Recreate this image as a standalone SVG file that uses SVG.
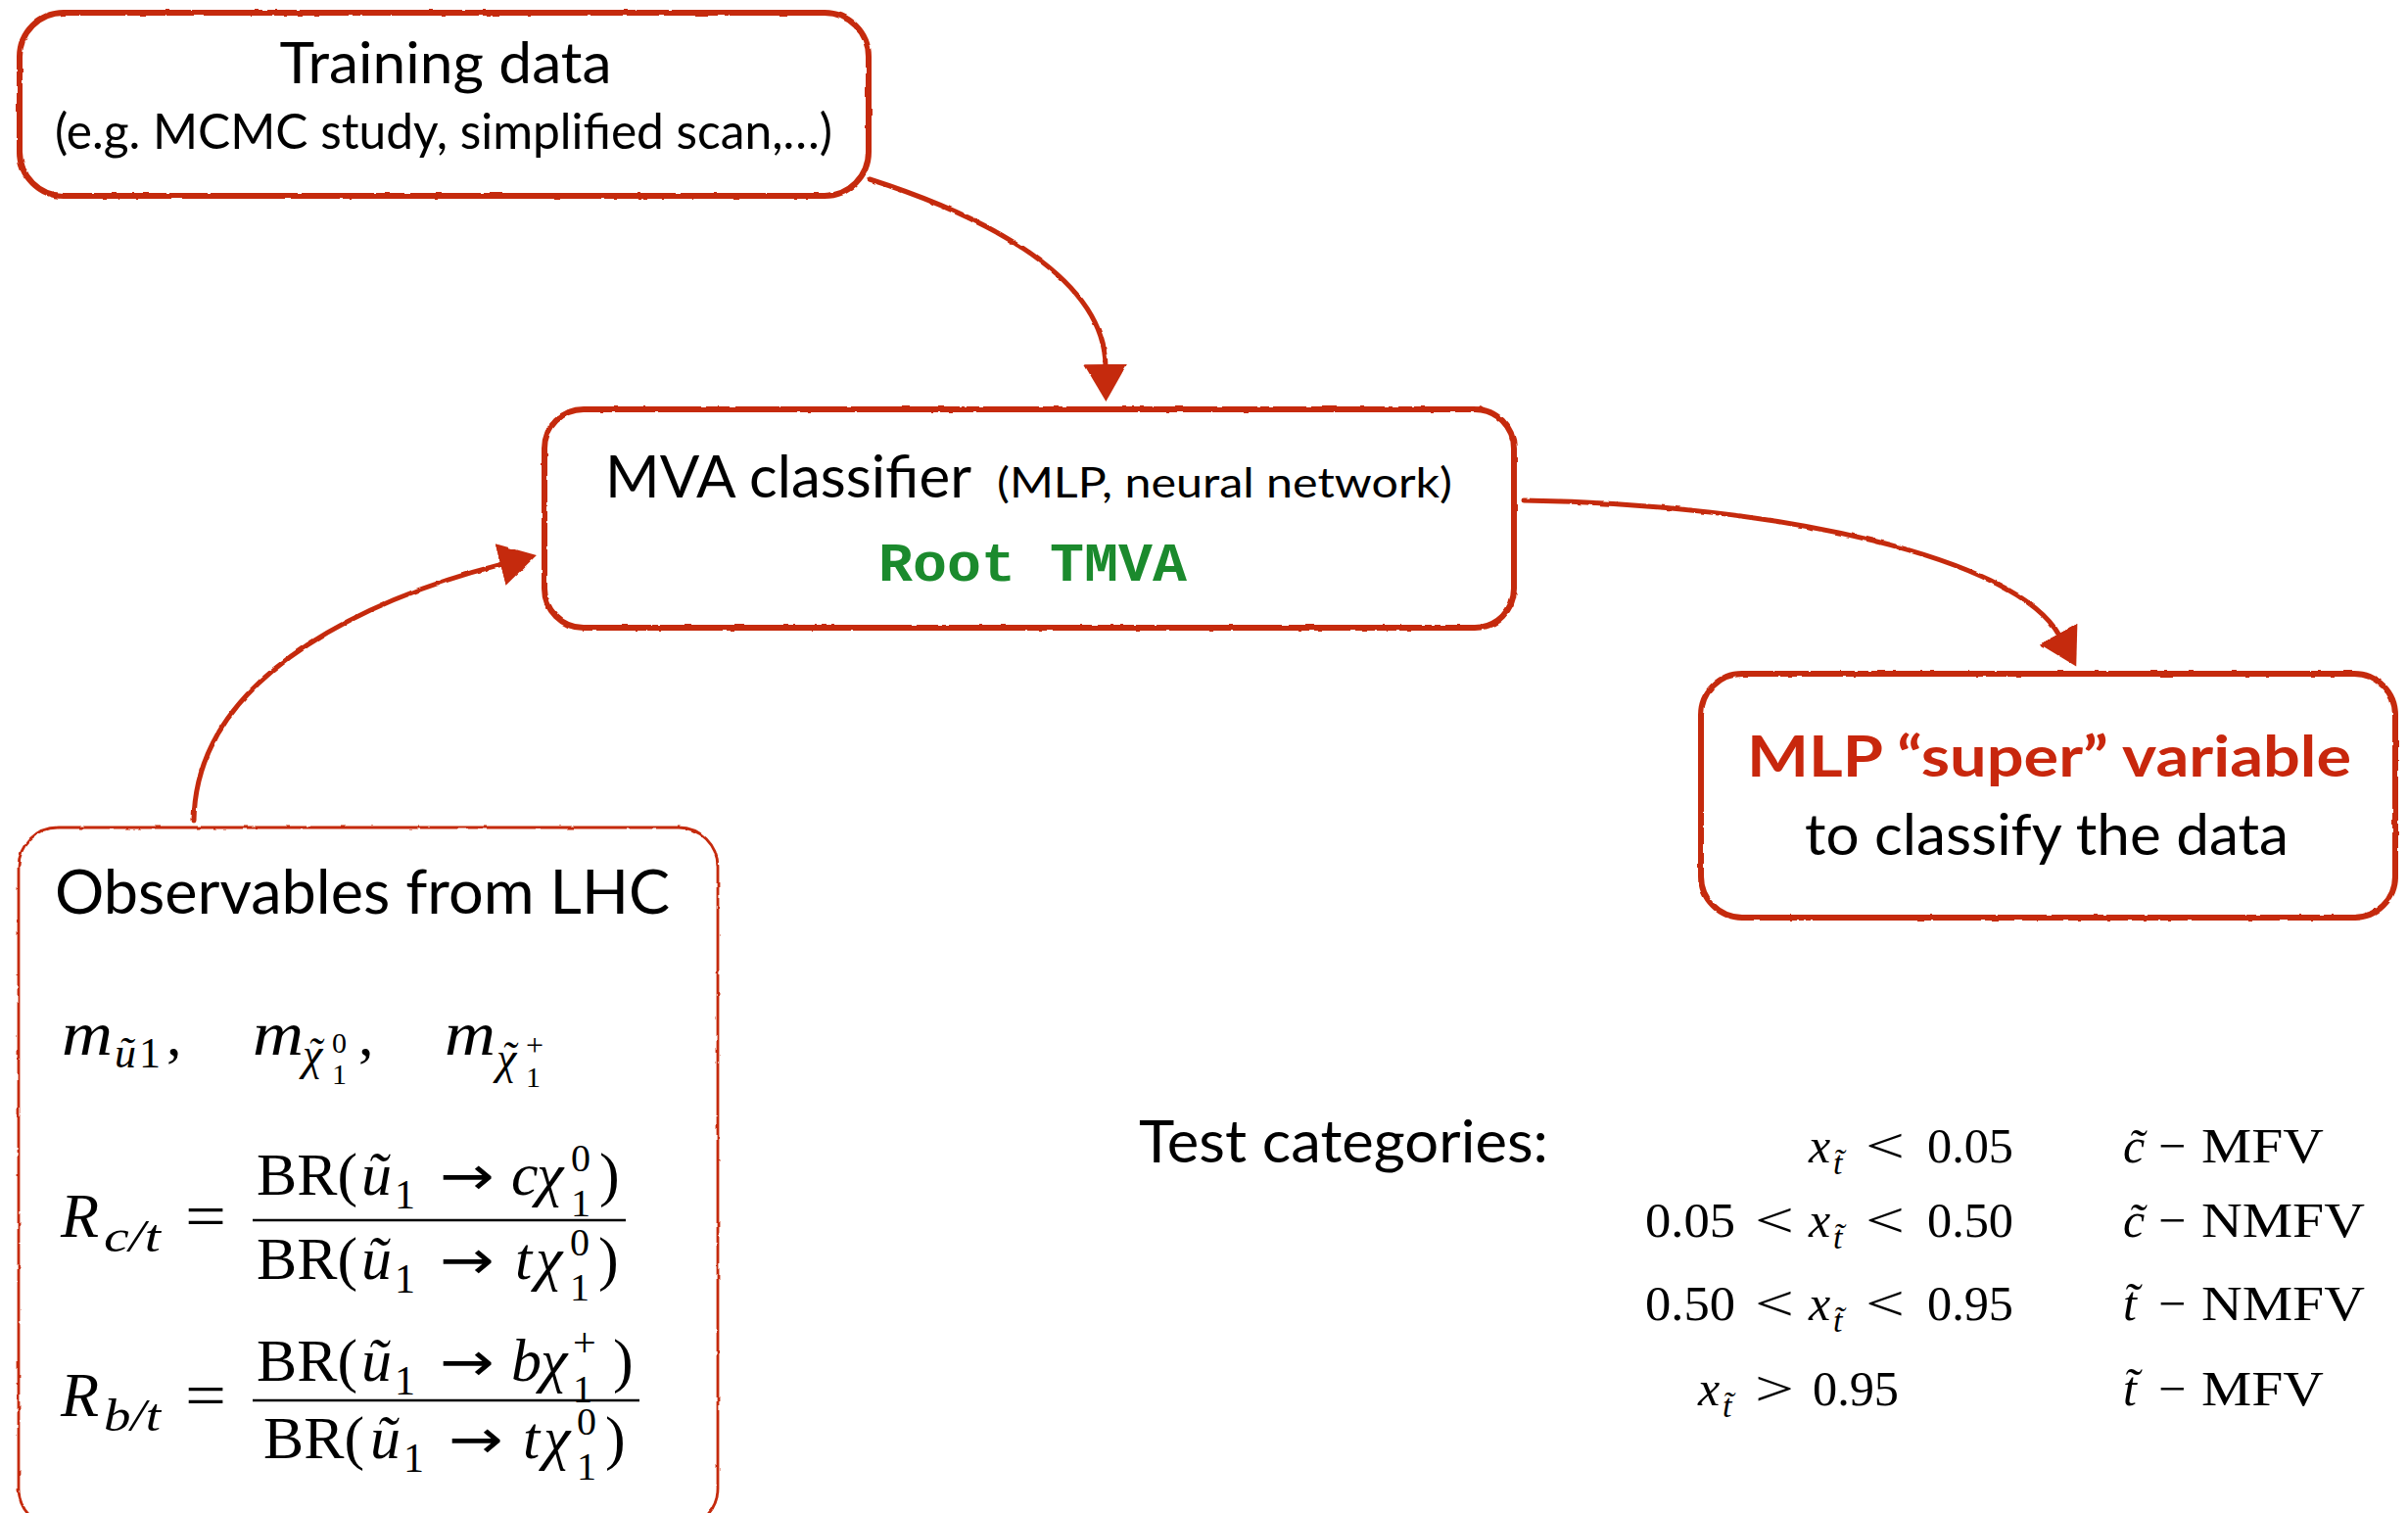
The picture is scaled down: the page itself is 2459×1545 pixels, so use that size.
<svg xmlns="http://www.w3.org/2000/svg" width="2459" height="1545" viewBox="0 0 2459 1545">
<style>
.box{fill:#fff;stroke:#c52a0c;stroke-width:6;filter:url(#rough)}
.thin{fill:#fff;stroke:#c52a0c;stroke-width:2.8;filter:url(#rough)}
.conn{fill:none;stroke:#c52a0c;stroke-width:5;stroke-linecap:round}
.sans{font-family:Lato,"Open Sans","Liberation Sans",sans-serif;fill:#000}
.red{fill:#c8270d;font-weight:bold}
.mono{font-family:"Liberation Mono","Courier New",monospace;font-weight:bold;fill:#1b8a2d}
.mi{font-family:"Liberation Serif","Times New Roman",serif;font-style:italic;fill:#000}
.mr{font-family:"Liberation Serif","Times New Roman",serif;fill:#000}
.ar{font-family:"DejaVu Sans",sans-serif;fill:#000}
.bar{stroke:#000;stroke-width:2.6}
</style>
<defs>
<filter id="rough" filterUnits="userSpaceOnUse" x="0" y="0" width="2459" height="1545">
<feTurbulence type="fractalNoise" baseFrequency="0.09" numOctaves="2" seed="4" result="n"/>
<feDisplacementMap in="SourceGraphic" in2="n" scale="2.5" xChannelSelector="R" yChannelSelector="G"/>
</filter>
<marker id="head" markerUnits="userSpaceOnUse" markerWidth="44" markerHeight="50" viewBox="0 -25 44 50" refX="2" refY="0" orient="auto">
<path d="M0,-22 L38,0 L0,22 Z" fill="#c52a0c"/>
</marker>
</defs>
<rect width="2459" height="1545" fill="#fff"/>

<g id="connectors" filter="url(#rough)">
<path class="conn" d="M888 183 C1010 222 1128 285 1129 374" marker-end="url(#head)"/>
<path class="conn" d="M1556 511 C1820 515 2060 570 2103 649" marker-end="url(#head)"/>
<path class="conn" d="M198 838 C200 680 400 605 513 576" marker-end="url(#head)"/>
</g>

<g id="node-training">
<rect class="box" x="20" y="13" width="867" height="187" rx="45"/>
<text class="sans" x="455" y="85" font-size="58" text-anchor="middle" textLength="339" lengthAdjust="spacingAndGlyphs">Training data</text>
<text class="sans" x="453" y="152" font-size="50" text-anchor="middle" textLength="794" lengthAdjust="spacingAndGlyphs">(e.g. MCMC study, simplified scan,…)</text>
</g>

<g id="node-mva">
<rect class="box" x="556" y="418" width="990" height="223" rx="40"/>
<text class="sans" x="618" y="508" font-size="60" textLength="374" lengthAdjust="spacingAndGlyphs">MVA classifier</text>
<text class="sans" x="1018" y="508" font-size="42" textLength="465" lengthAdjust="spacingAndGlyphs">(MLP, neural network)</text>
<text class="mono" x="897" y="593" font-size="56" textLength="315" lengthAdjust="spacingAndGlyphs">Root TMVA</text>
</g>

<g id="node-mlp">
<rect class="box" x="1737" y="688" width="709" height="249" rx="42"/>
<text class="sans red" x="1784" y="793" font-size="57" textLength="617" lengthAdjust="spacingAndGlyphs">MLP “super” variable</text>
<text class="sans" x="1843" y="873" font-size="58" textLength="494" lengthAdjust="spacingAndGlyphs">to classify the data</text>
</g>

<g id="node-observables">
<rect class="thin" x="19" y="845" width="714" height="715" rx="40"/>
<text class="sans" x="56" y="933" font-size="62" textLength="628" lengthAdjust="spacingAndGlyphs">Observables from LHC</text>
<!-- masses -->
<text class="mi" x="63" y="1077" font-size="64" textLength="52" lengthAdjust="spacingAndGlyphs">m</text>
<text class="mi" x="117" y="1090" font-size="44">ũ</text>
<text class="mr" x="142" y="1090" font-size="44">1</text>
<text class="mr" x="170" y="1077" font-size="62">,</text>
<text class="mi" x="258" y="1077" font-size="64" textLength="52" lengthAdjust="spacingAndGlyphs">m</text>
<text class="mi" font-size="46"><tspan x="309" y="1092">χ</tspan><tspan x="314" y="1090" font-size="44">˜</tspan></text>
<text class="mr" font-size="30"><tspan x="339" y="1075">0</tspan><tspan x="339" y="1107">1</tspan></text>
<text class="mr" x="366" y="1077" font-size="62">,</text>
<text class="mi" x="454" y="1077" font-size="64" textLength="52" lengthAdjust="spacingAndGlyphs">m</text>
<text class="mi" font-size="46"><tspan x="507" y="1096">χ</tspan><tspan x="512" y="1094" font-size="44">˜</tspan></text>
<text class="mr" font-size="30"><tspan x="537" y="1078" font-size="32">+</tspan><tspan x="537" y="1110">1</tspan></text>
<!-- R c/t -->
<text class="mi" x="62" y="1263" font-size="64">R</text>
<text class="mi" x="106" y="1278" font-size="46" textLength="58" lengthAdjust="spacingAndGlyphs">c/t</text>
<text class="mr" x="189" y="1263" font-size="64" textLength="42" lengthAdjust="spacingAndGlyphs">=</text>
<text class="mr" x="262" y="1220" font-size="62" textLength="103" lengthAdjust="spacingAndGlyphs">BR(</text>
<text class="mi" x="369" y="1220" font-size="62">ũ</text>
<text class="mr" x="403" y="1234" font-size="42">1</text>
<text class="ar" x="449" y="1220" font-size="56" textLength="56" lengthAdjust="spacingAndGlyphs">→</text>
<text class="mi" x="522" y="1220" font-size="62">c</text>
<text class="mi" x="548" y="1220" font-size="62">χ</text>
<text class="mr" font-size="40"><tspan x="583" y="1196">0</tspan><tspan x="583" y="1242">1</tspan></text>
<text class="mr" x="612" y="1220" font-size="62">)</text>
<line class="bar" x1="258" y1="1246" x2="639" y2="1246"/>
<text class="mr" x="262" y="1306" font-size="62" textLength="103" lengthAdjust="spacingAndGlyphs">BR(</text>
<text class="mi" x="369" y="1306" font-size="62">ũ</text>
<text class="mr" x="403" y="1320" font-size="42">1</text>
<text class="ar" x="449" y="1306" font-size="56" textLength="56" lengthAdjust="spacingAndGlyphs">→</text>
<text class="mi" x="526" y="1306" font-size="62">t</text>
<text class="mi" x="547" y="1306" font-size="62">χ</text>
<text class="mr" font-size="40"><tspan x="582" y="1282">0</tspan><tspan x="582" y="1328">1</tspan></text>
<text class="mr" x="611" y="1306" font-size="62">)</text>
<!-- R b/t -->
<text class="mi" x="62" y="1446" font-size="64">R</text>
<text class="mi" x="106" y="1461" font-size="46" textLength="58" lengthAdjust="spacingAndGlyphs">b/t</text>
<text class="mr" x="189" y="1446" font-size="64" textLength="42" lengthAdjust="spacingAndGlyphs">=</text>
<text class="mr" x="262" y="1410" font-size="62" textLength="103" lengthAdjust="spacingAndGlyphs">BR(</text>
<text class="mi" x="369" y="1410" font-size="62">ũ</text>
<text class="mr" x="403" y="1424" font-size="42">1</text>
<text class="ar" x="449" y="1410" font-size="56" textLength="56" lengthAdjust="spacingAndGlyphs">→</text>
<text class="mi" x="522" y="1410" font-size="62">b</text>
<text class="mi" x="552" y="1410" font-size="62">χ</text>
<text class="mr" font-size="40"><tspan x="585" y="1385" font-size="42">+</tspan><tspan x="585" y="1432">1</tspan></text>
<text class="mr" x="626" y="1410" font-size="62">)</text>
<line class="bar" x1="258" y1="1430" x2="653" y2="1430"/>
<text class="mr" x="269" y="1489" font-size="62" textLength="103" lengthAdjust="spacingAndGlyphs">BR(</text>
<text class="mi" x="378" y="1489" font-size="62">ũ</text>
<text class="mr" x="412" y="1503" font-size="42">1</text>
<text class="ar" x="458" y="1489" font-size="56" textLength="56" lengthAdjust="spacingAndGlyphs">→</text>
<text class="mi" x="534" y="1489" font-size="62">t</text>
<text class="mi" x="555" y="1489" font-size="62">χ</text>
<text class="mr" font-size="40"><tspan x="589" y="1465">0</tspan><tspan x="589" y="1511">1</tspan></text>
<text class="mr" x="618" y="1489" font-size="62">)</text>
</g>

<g id="test-categories">
<text class="sans" x="1163" y="1187" font-size="60" textLength="418" lengthAdjust="spacingAndGlyphs">Test categories:</text>
<!-- row 1 -->
<text class="mi" x="1847" y="1187" font-size="50">x</text>
<text class="mi" x="1872" y="1199" font-size="34">t̃</text>
<text class="mr" x="1905" y="1187" font-size="50" textLength="40" lengthAdjust="spacingAndGlyphs">&lt;</text>
<text class="mr" x="1968" y="1187" font-size="50" textLength="88" lengthAdjust="spacingAndGlyphs">0.05</text>
<text class="mi" x="2168" y="1187" font-size="50">c̃</text>
<text class="mr" x="2204" y="1187" font-size="50">−</text>
<text class="mr" x="2248" y="1187" font-size="50" textLength="125" lengthAdjust="spacingAndGlyphs">MFV</text>
<!-- row 2 -->
<text class="mr" x="1680" y="1263" font-size="50" textLength="92" lengthAdjust="spacingAndGlyphs">0.05</text>
<text class="mr" x="1792" y="1263" font-size="50" textLength="40" lengthAdjust="spacingAndGlyphs">&lt;</text>
<text class="mi" x="1847" y="1263" font-size="50">x</text>
<text class="mi" x="1872" y="1275" font-size="34">t̃</text>
<text class="mr" x="1905" y="1263" font-size="50" textLength="40" lengthAdjust="spacingAndGlyphs">&lt;</text>
<text class="mr" x="1968" y="1263" font-size="50" textLength="88" lengthAdjust="spacingAndGlyphs">0.50</text>
<text class="mi" x="2168" y="1263" font-size="50">c̃</text>
<text class="mr" x="2204" y="1263" font-size="50">−</text>
<text class="mr" x="2248" y="1263" font-size="50" textLength="167" lengthAdjust="spacingAndGlyphs">NMFV</text>
<!-- row 3 -->
<text class="mr" x="1680" y="1348" font-size="50" textLength="92" lengthAdjust="spacingAndGlyphs">0.50</text>
<text class="mr" x="1792" y="1348" font-size="50" textLength="40" lengthAdjust="spacingAndGlyphs">&lt;</text>
<text class="mi" x="1847" y="1348" font-size="50">x</text>
<text class="mi" x="1872" y="1360" font-size="34">t̃</text>
<text class="mr" x="1905" y="1348" font-size="50" textLength="40" lengthAdjust="spacingAndGlyphs">&lt;</text>
<text class="mr" x="1968" y="1348" font-size="50" textLength="88" lengthAdjust="spacingAndGlyphs">0.95</text>
<text class="mi" x="2168" y="1348" font-size="50">t̃</text>
<text class="mr" x="2204" y="1348" font-size="50">−</text>
<text class="mr" x="2248" y="1348" font-size="50" textLength="167" lengthAdjust="spacingAndGlyphs">NMFV</text>
<!-- row 4 -->
<text class="mi" x="1734" y="1435" font-size="50">x</text>
<text class="mi" x="1759" y="1447" font-size="34">t̃</text>
<text class="mr" x="1792" y="1435" font-size="50" textLength="40" lengthAdjust="spacingAndGlyphs">&gt;</text>
<text class="mr" x="1851" y="1435" font-size="50" textLength="88" lengthAdjust="spacingAndGlyphs">0.95</text>
<text class="mi" x="2168" y="1435" font-size="50">t̃</text>
<text class="mr" x="2204" y="1435" font-size="50">−</text>
<text class="mr" x="2248" y="1435" font-size="50" textLength="125" lengthAdjust="spacingAndGlyphs">MFV</text>
</g>
</svg>
